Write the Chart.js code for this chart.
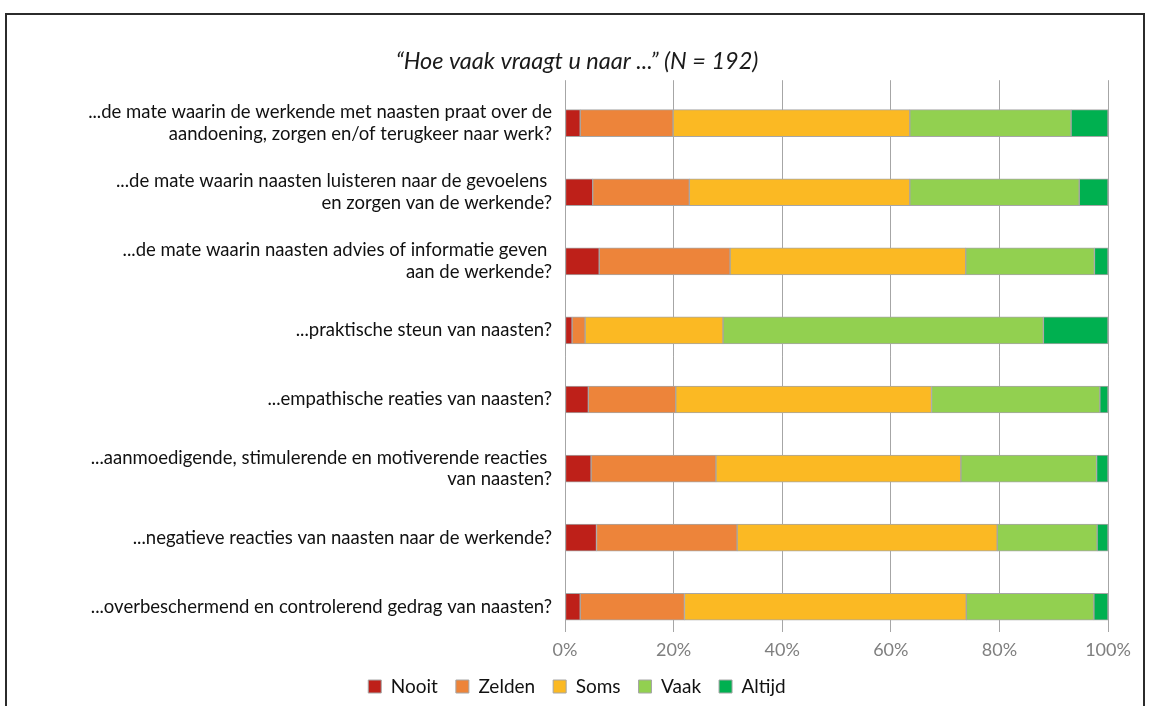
<!DOCTYPE html>
<html>
<head>
<meta charset="utf-8">
<script src="https://cdn.jsdelivr.net/npm/chart.js@4/dist/chart.umd.min.js"></script>
<style>
  html, body { margin: 0; padding: 0; background: #fff; }
  #wrap { position: relative; width: 1149px; height: 706px; overflow: hidden; }
  #frame { position: absolute; left: 5px; top: 13px; width: 1136px; height: 720px; border: 2px solid #2b2b2b; pointer-events: none; }
</style>
</head>
<body>
<div id="wrap">
  <canvas id="myChart" width="1149" height="706"></canvas>
  <div id="frame"></div>
</div>
<script>
// vragen (y-as)
const vragen = [
    ["...de mate waarin de werkende met naasten praat over de", "aandoening, zorgen en/of terugkeer naar werk?"],
    ["...de mate waarin naasten luisteren naar de gevoelens ", "en zorgen van de werkende?"],
    ["...de mate waarin naasten advies of informatie geven ", "aan de werkende?"],
    "...praktische steun van naasten?",
    "...empathische reaties van naasten?",
    ["...aanmoedigende, stimulerende en motiverende reacties ", "van naasten?"],
    "...negatieve reacties van naasten naar de werkende?",
    "...overbeschermend en controlerend gedrag van naasten?"
]

const nooit  = [2.8, 5.1, 6.3, 1.3, 4.3, 4.8, 5.8, 2.8]
const zelden = [17.1, 17.8, 24.1, 2.4, 16.1, 23.0, 25.9, 19.2]
const soms   = [43.6, 40.6, 43.4, 25.4, 47.1, 45.1, 47.9, 51.9]
const vaak   = [29.7, 31.2, 23.7, 59.0, 31.0, 25.0, 18.4, 23.5]
const altijd = [6.8, 5.3, 2.5, 11.9, 1.5, 2.1, 2.0, 2.6]

const xTicks = [0, 20, 40, 60, 80, 100]

const fontNaam = "Lato, 'Open Sans', sans-serif"

function rij(waarden) {
    return waarden.map((v, i) => ({ x: v, y: i }))
}

function serie(label, waarden, kleur) {
    return {
        label: label,
        data: rij(waarden),
        backgroundColor: kleur,
        borderColor: "#a6a6a6",
        borderWidth: 1,
        borderSkipped: false,
        barThickness: 27
    }
}

const grafica = document.getElementById("myChart").getContext("2d")

const myChart = new Chart(grafica, {
    type: "bar",
    data: {
        datasets: [
            serie("Nooit", nooit, "#be2019"),
            serie("Zelden", zelden, "#ed843a"),
            serie("Soms", soms, "#fbb923"),
            serie("Vaak", vaak, "#92d050"),
            serie("Altijd", altijd, "#00b050")
        ]
    },
    options: {
        indexAxis: "y",
        responsive: false,
        animation: false,
        layout: {
            padding: { left: 46, right: 41, top: 30, bottom: 0 }
        },
        plugins: {
            title: {
                display: true,
                text: "\u201CHoe vaak vraagt u naar ...\u201D (N = 192)",
                color: "#1a1a1a",
                font: { family: fontNaam, size: 23.5, style: "italic", weight: "normal" },
                padding: { top: 17, bottom: 5 }
            },
            legend: {
                position: "bottom",
                labels: {
                    color: "#111",
                    boxWidth: 13,
                    boxHeight: 13,
                    padding: 18,
                    font: { family: fontNaam, size: 19 }
                }
            },
            tooltip: { enabled: false }
        },
        scales: {
            x: {
                stacked: true,
                min: 0,
                max: 100,
                afterBuildTicks: s => { s.ticks = xTicks.map(v => ({ value: v })) },
                afterFit: s => { s.height = 27 },
                ticks: {
                    color: "#7f7f7f",
                    padding: 9,
                    font: { family: fontNaam, size: 18, lineHeight: 1 },
                    callback: v => v + "%"
                },
                grid: { color: "#a6a6a6", lineWidth: 1, drawTicks: false },
                border: { display: false }
            },
            y: {
                type: "linear",
                stacked: true,
                reverse: true,
                offset: false,
                min: -0.622,
                max: 7.366,
                afterBuildTicks: s => { s.ticks = vragen.map((_, i) => ({ value: i })) },
                afterFit: s => { s.width = 519 },
                ticks: {
                    color: "#111",
                    padding: 13,
                    autoSkip: false,
                    font: { family: fontNaam, size: 18.5, lineHeight: 1.17 },
                    callback: v => vragen[v]
                },
                grid: { display: false, drawTicks: false, offset: false },
                border: { display: false }
            }
        }
    }
})
</script>
</body>
</html>
